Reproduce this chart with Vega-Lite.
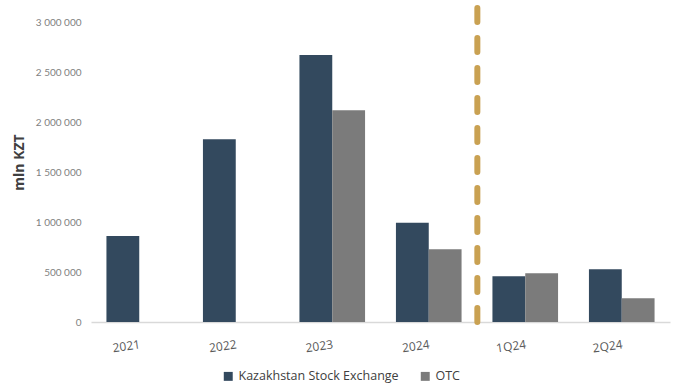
{
  "$schema": "https://vega.github.io/schema/vega-lite/v6.json",
  "width": 579,
  "height": 320,
  "autosize": "none",
  "padding": {"left": 91, "top": 2, "right": 6, "bottom": 63},
  "background": "white",
  "config": {
    "view": {"stroke": null},
    "font": "Open Sans",
    "locale": {"number": {"decimal": ".", "thousands": " ", "grouping": [3], "currency": ["", ""]}}
  },
  "datasets": {
    "bars": [
      {"period": "2021", "series": "Kazakhstan Stock Exchange", "value": 860000},
      {"period": "2022", "series": "Kazakhstan Stock Exchange", "value": 1828000},
      {"period": "2023", "series": "Kazakhstan Stock Exchange", "value": 2670000},
      {"period": "2023", "series": "OTC", "value": 2118000},
      {"period": "2024", "series": "Kazakhstan Stock Exchange", "value": 993000},
      {"period": "2024", "series": "OTC", "value": 728000},
      {"period": "1Q24", "series": "Kazakhstan Stock Exchange", "value": 458000},
      {"period": "1Q24", "series": "OTC", "value": 488000},
      {"period": "2Q24", "series": "Kazakhstan Stock Exchange", "value": 527000},
      {"period": "2Q24", "series": "OTC", "value": 237000}
    ],
    "divider": [{"period": "1Q24"}]
  },
  "layer": [
    {
      "data": {"name": "bars"},
      "mark": {"type": "bar"},
      "encoding": {
        "x": {
          "field": "period", "type": "ordinal",
          "scale": {"domain": ["2021", "2022", "2023", "2024", "1Q24", "2Q24"], "paddingInner": 0.32, "paddingOuter": 0.16},
          "axis": {
            "title": null, "labelAngle": -8, "labelFontSize": 12, "labelColor": "#595959", "labelFont": "Open Sans",
            "ticks": false, "domainColor": "#d9d9d9", "domainWidth": 1.5, "labelPadding": 17
          }
        },
        "xOffset": {"field": "series", "type": "nominal", "scale": {"domain": ["Kazakhstan Stock Exchange", "OTC"]}},
        "y": {
          "field": "value", "type": "quantitative",
          "scale": {"domain": [0, 3200000], "nice": false},
          "axis": {
            "title": "mln KZT", "titleFontSize": 14, "titleFontWeight": "bold", "titleColor": "#404040",
            "titleFont": "Open Sans", "titlePadding": 9,
            "values": [0, 500000, 1000000, 1500000, 2000000, 2500000, 3000000],
            "format": ",d", "labelFontSize": 10, "labelColor": "#7f7f7f", "labelFont": "Lato",
            "grid": false, "ticks": false, "domain": false, "labelPadding": 10
          }
        },
        "color": {
          "field": "series", "type": "nominal",
          "scale": {"domain": ["Kazakhstan Stock Exchange", "OTC"], "range": ["#33495e", "#7b7b7b"]},
          "legend": {
            "title": null, "orient": "none", "legendX": 131, "legendY": 368, "direction": "horizontal",
            "symbolType": "square", "symbolSize": 80, "labelFontSize": 12.5, "labelColor": "#404040",
            "labelFont": "Open Sans", "labelLimit": 300, "columnPadding": 20, "symbolOpacity": 1
          }
        }
      }
    },
    {
      "data": {"name": "divider"},
      "mark": {"type": "rule", "strokeDash": [14, 16], "strokeWidth": 6, "strokeCap": "round", "color": "#c9a152"},
      "encoding": {
        "x": {"field": "period", "type": "ordinal", "bandPosition": -0.23},
        "y": {"datum": 0},
        "y2": {"datum": 3200000}
      }
    }
  ]
}
